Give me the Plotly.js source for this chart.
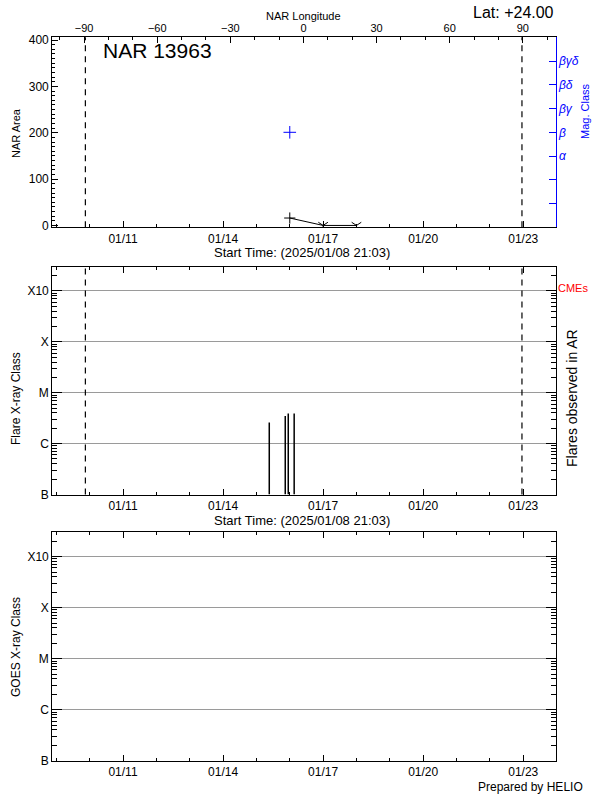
<!DOCTYPE html>
<html>
<head>
<meta charset="utf-8">
<script src="https://cdn.plot.ly/plotly-3.0.1.min.js"></script>
<style>
html,body{margin:0;padding:0;background:#fff;}
#chart{width:600px;height:800px;}
</style>
</head>
<body>
<div id="chart"></div>
<script>
// ---------- data ----------
const startTime = '2025-01-08 21:03';
const endTime = '2025-01-23 23:13';
const dateTicks = ['2025-01-11', '2025-01-14', '2025-01-17', '2025-01-20', '2025-01-23'];
const dateTickText = ['01/11', '01/14', '01/17', '01/20', '01/23'];
const lonTicks = [-90, -60, -30, 0, 30, 60, 90];
const lonRange = [-103.1, 103.4];
const limbTimes = ['2025-01-09 20:55', '2025-01-22 23:05'];

const areaTimes = ['2025-01-16 00:00', '2025-01-17 00:00', '2025-01-18 00:00'];
const areaValues = [16, 0, 0];
const areaSymbols = ['cross-thin', 'y-down-open', 'y-down-open'];

const magCategories = ['', '', 'α', 'β', 'βγ', 'βδ', 'βγδ'];
const magTimes = ['2025-01-16 00:00'];
const magClasses = ['β'];

const flareTimes = ['2025-01-15 09:15', '2025-01-15 20:45', '2025-01-15 22:55', '2025-01-16 03:10'];
const flarePeaks = [2.6e-6, 3.5e-6, 3.9e-6, 3.9e-6];

const classTickVals = [1e-7, 1e-6, 1e-5, 1e-4, 1e-3];
const classTickText = ['B', 'C', 'M', 'X', 'X10'];
const classTop = 3e-3;

// ---------- derived ----------
const FONT = 'Liberation Sans, Arial, sans-serif';
const minorLog = [];
for (let d = -7; d <= -3; d++) {
  for (let k = 2; k <= 9; k++) {
    const v = k * Math.pow(10, d);
    if (v < classTop) minorLog.push(v);
  }
}
const logRange = [Math.log10(classTickVals[0]), Math.log10(classTop)];
const magPos = magClasses.map(c => magCategories.indexOf(c) + 1);

const flareX = [], flareY = [];
flareTimes.forEach((t, i) => {
  flareX.push(t, t, null);
  flareY.push(classTickVals[0], flarePeaks[i], null);
});

const W = 600, H = 800;
const xDom = [52.2 / W, 555.5 / W];
const dTop = [1 - 227.3 / H, 1 - 37.3 / H];
const dMid = [1 - 494.5 / H, 1 - 266.7 / H];
const dBot = [1 - 760.7 / H, 1 - 532.3 / H];

const tf = {family: FONT, size: 12, color: '#000'};

function dateAxis(anchor, mirror) {
  return {
    domain: xDom, anchor: anchor, type: 'date', range: [startTime, endTime],
    tickmode: 'array', tickvals: dateTicks, ticktext: dateTickText,
    ticks: 'inside', ticklen: 6, tickwidth: 1, tickcolor: '#000',
    showline: true, linecolor: '#000', linewidth: 1, mirror: mirror,
    showgrid: false, zeroline: false, tickfont: tf
  };
}
function dateMinor(over, anchor, mirror) {
  return {
    overlaying: over, anchor: anchor, side: 'bottom', type: 'date', range: [startTime, endTime],
    tickmode: 'linear', tick0: '2025-01-09', dtick: 86400000,
    ticks: 'inside', ticklen: 3, tickcolor: '#000', showticklabels: false,
    showline: false, mirror: mirror, showgrid: false, zeroline: false
  };
}
function classAxis(domain, anchor) {
  return {
    domain: domain, anchor: anchor, type: 'log', range: logRange,
    tickmode: 'array', tickvals: classTickVals, ticktext: classTickText,
    ticks: 'inside', ticklen: 10, tickcolor: '#000',
    showline: true, linecolor: '#000', linewidth: 1, mirror: 'ticks',
    showgrid: true, gridcolor: '#9a9a9a', gridwidth: 1, zeroline: false, tickfont: tf
  };
}
function classMinor(over, anchor) {
  return {
    overlaying: over, anchor: anchor, side: 'left', type: 'log', range: logRange,
    tickmode: 'array', tickvals: minorLog, ticks: 'inside', ticklen: 5, tickcolor: '#000',
    showticklabels: false, showline: false, mirror: 'ticks', showgrid: false, zeroline: false
  };
}

const blank = (xa, ya) => ({x: [null], y: [null], xaxis: xa, yaxis: ya, type: 'scatter', mode: 'markers', showlegend: false, hoverinfo: 'skip'});

const traces = [
  {x: areaTimes, y: areaValues, xaxis: 'x', yaxis: 'y', type: 'scatter', mode: 'lines+markers',
   line: {color: '#000', width: 1}, marker: {symbol: areaSymbols, size: 8, color: '#000', line: {color: '#000', width: 1}},
   hoverinfo: 'skip', showlegend: false},
  {x: magTimes, y: magPos, xaxis: 'x', yaxis: 'y4', type: 'scatter', mode: 'markers',
   marker: {symbol: 'cross-thin', size: 9, color: '#0000ff', line: {color: '#0000ff', width: 1}},
   hoverinfo: 'skip', showlegend: false},
  blank('x4', 'y'),
  {x: flareX, y: flareY, xaxis: 'x2', yaxis: 'y2', type: 'scatter', mode: 'lines',
   line: {color: '#000', width: 1.5}, hoverinfo: 'skip', showlegend: false, connectgaps: false},
  blank('x3', 'y3'),
  blank('x5', 'y'), blank('x', 'y5'), blank('x8', 'y'),
  blank('x6', 'y2'), blank('x2', 'y6'),
  blank('x7', 'y3'), blank('x3', 'y7')
];

const shapes = [];
limbTimes.forEach(t => {
  [['x', 'y'], ['x2', 'y2']].forEach(([xr, yr]) => {
    shapes.push({type: 'line', xref: xr, yref: yr + ' domain', x0: t, x1: t, y0: 0, y1: 1,
      line: {color: '#000', width: 1.2, dash: '6px,5px'}});
  });
});

function ann(text, x, y, opts) {
  return Object.assign({text: text, xref: 'paper', yref: 'paper', x: x / W, y: 1 - y / H,
    showarrow: false, xanchor: 'center', yanchor: 'middle',
    font: {family: FONT, size: 12, color: '#000'}}, opts || {});
}
const annotations = [
  ann('NAR 13963', 101, 50, {xanchor: 'left', font: {family: FONT, size: 21, color: '#000'}}),
  ann('Lat: +24.00', 556, 13, {xanchor: 'right', font: {family: FONT, size: 16, color: '#000'}}),
  ann('NAR Longitude', 303, 16, {font: {family: FONT, size: 11, color: '#000'}}),
  ann('NAR Area', 16, 133, {textangle: -90, font: {family: FONT, size: 11, color: '#000'}}),
  ann('Mag. Class', 585, 111, {textangle: -90, font: {family: FONT, size: 11, color: '#0000ff'}}),
  ann('Start Time: (2025/01/08 21:03)', 302, 253, {font: {family: FONT, size: 13, color: '#000'}}),
  ann('Flare X-ray Class', 16, 399, {textangle: -90, font: {family: FONT, size: 12, color: '#000'}}),
  ann('Flares observed in AR', 572, 398, {textangle: -90, font: {family: FONT, size: 14, color: '#000'}}),
  ann('CMEs', 573, 288, {font: {family: FONT, size: 11, color: '#ff0000'}}),
  ann('Start Time: (2025/01/08 21:03)', 302, 520, {font: {family: FONT, size: 13, color: '#000'}}),
  ann('GOES X-ray Class', 16, 647, {textangle: -90, font: {family: FONT, size: 12, color: '#000'}}),
  ann('Prepared by HELIO', 585, 787, {xanchor: 'right', font: {family: FONT, size: 12, color: '#000'}})
];

const layout = {
  width: W, height: H, autosize: false,
  margin: {l: 0, r: 0, t: 0, b: 0, pad: 0},
  paper_bgcolor: '#fff', plot_bgcolor: '#fff',
  font: {family: FONT, size: 12, color: '#000'},
  showlegend: false,
  xaxis: dateAxis('y', false),
  xaxis2: dateAxis('y2', 'ticks'),
  xaxis3: dateAxis('y3', 'ticks'),
  xaxis4: {
    overlaying: 'x', side: 'top', anchor: 'y', range: lonRange,
    tickmode: 'array', tickvals: lonTicks, ticks: 'inside', ticklen: 6, tickcolor: '#000',
    showline: true, linecolor: '#000', linewidth: 1, showgrid: false, zeroline: false,
    tickfont: {family: FONT, size: 11, color: '#000'}
  },
  xaxis8: {
    overlaying: 'x', side: 'top', anchor: 'y', range: lonRange,
    tickmode: 'linear', tick0: 0, dtick: 10, ticks: 'inside', ticklen: 3, tickcolor: '#000',
    showticklabels: false, showline: false, showgrid: false, zeroline: false
  },
  xaxis5: dateMinor('x', 'y', false),
  xaxis6: dateMinor('x2', 'y2', 'ticks'),
  xaxis7: dateMinor('x3', 'y3', 'ticks'),
  yaxis: {
    domain: dTop, anchor: 'x', range: [-4, 406], tickmode: 'linear', tick0: 0, dtick: 100,
    ticks: 'inside', ticklen: 6, tickcolor: '#000', showline: true, linecolor: '#000', linewidth: 1,
    showgrid: false, zeroline: false, tickfont: tf
  },
  yaxis5: {
    overlaying: 'y', anchor: 'x', side: 'left', range: [-4, 406], tickmode: 'linear', tick0: 0, dtick: 10,
    ticks: 'inside', ticklen: 3, tickcolor: '#000', showticklabels: false, showline: false,
    showgrid: false, zeroline: false
  },
  yaxis4: {
    overlaying: 'y', side: 'right', anchor: 'x', range: [0, 8],
    tickmode: 'array', tickvals: magCategories.map((c, i) => i + 1),
    ticktext: magCategories.map(c => c ? '<i>' + c + '</i>' : ''),
    ticks: 'inside', ticklen: 7, tickcolor: '#0000ff', showline: true, linecolor: '#0000ff', linewidth: 1,
    showgrid: false, zeroline: false, tickfont: {family: FONT, size: 12, color: '#0000ff'}
  },
  yaxis2: classAxis(dMid, 'x2'),
  yaxis3: classAxis(dBot, 'x3'),
  yaxis6: classMinor('y2', 'x2'),
  yaxis7: classMinor('y3', 'x3'),
  shapes: shapes,
  annotations: annotations
};

Plotly.newPlot('chart', traces, layout, {staticPlot: true, displayModeBar: false});
</script>
</body>
</html>
